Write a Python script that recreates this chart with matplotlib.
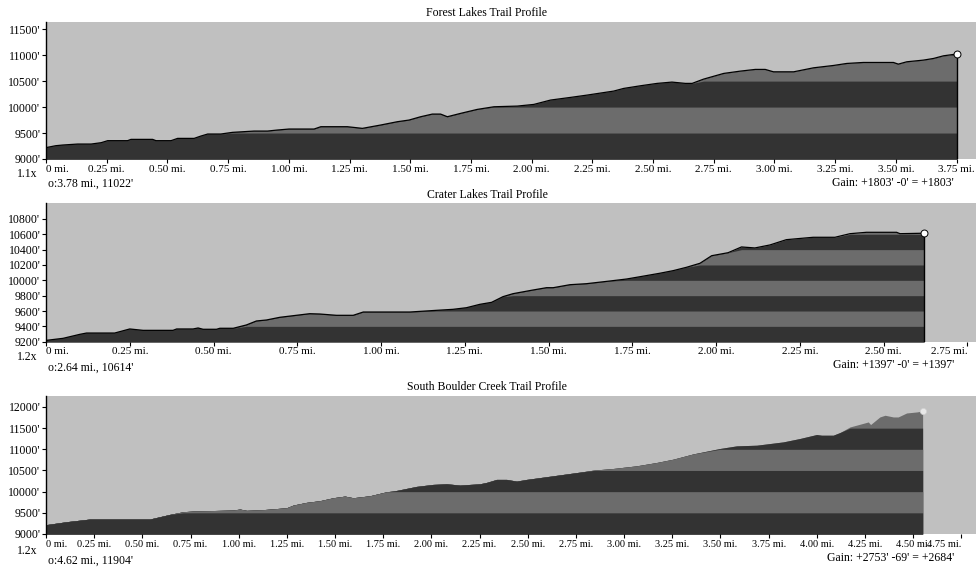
import matplotlib
matplotlib.use('Agg')
import matplotlib.pyplot as plt
import numpy as np

plt.rcParams['font.family'] = ['Liberation Serif', 'DejaVu Serif']
plt.rcParams['font.size'] = 8.5

W, H = 976, 567

# Forest Lakes profile (miles, feet)
forest_dist = [0.0, 0.04, 0.069, 0.131, 0.186, 0.227, 0.254, 0.336, 0.35, 0.439, 0.453, 0.515,
               0.542, 0.61, 0.638, 0.666, 0.72, 0.768, 0.857, 0.912, 0.953, 1.001, 1.104, 1.132,
               1.241, 1.303, 1.378, 1.447, 1.495, 1.543, 1.591, 1.625, 1.653, 1.707, 1.776, 1.845,
               1.941, 2.009, 2.078, 2.16, 2.229, 2.338, 2.379, 2.448, 2.517, 2.578, 2.633, 2.661,
               2.708, 2.791, 2.859, 2.921, 2.962, 2.996, 3.079, 3.161, 3.243, 3.298, 3.366, 3.49,
               3.51, 3.545, 3.613, 3.655, 3.696, 3.751]
forest_elev = [9219, 9256, 9269, 9288, 9288, 9314, 9353, 9353, 9378, 9378, 9353, 9353,
               9397, 9397, 9442, 9481, 9481, 9513, 9538, 9538, 9558, 9577, 9577, 9622,
               9622, 9590, 9654, 9718, 9750, 9814, 9865, 9865, 9814, 9878, 9955, 10006,
               10019, 10051, 10135, 10186, 10231, 10308, 10359, 10410, 10456, 10481, 10456, 10456,
               10538, 10648, 10692, 10725, 10725, 10679, 10679, 10756, 10801, 10840, 10859, 10859,
               10827, 10872, 10904, 10936, 10987, 11022]

# Crater Lakes profile
crater_dist = [0.0, 0.051, 0.101, 0.121, 0.205, 0.25, 0.29, 0.379, 0.39, 0.439, 0.454, 0.469,
               0.509, 0.519, 0.559, 0.598, 0.628, 0.658, 0.698, 0.738, 0.787, 0.817, 0.867,
               0.917, 0.947, 1.086, 1.166, 1.215, 1.255, 1.295, 1.33, 1.364, 1.394, 1.454,
               1.494, 1.514, 1.564, 1.613, 1.683, 1.733, 1.773, 1.832, 1.872, 1.912, 1.952,
               1.987, 2.036, 2.076, 2.116, 2.161, 2.21, 2.29, 2.355, 2.4, 2.449, 2.539, 2.549,
               2.621]
crater_elev = [9217, 9244, 9296, 9313, 9313, 9366, 9348, 9348, 9366, 9366, 9379, 9362,
               9362, 9375, 9375, 9418, 9470, 9483, 9518, 9539, 9565, 9561, 9544,
               9544, 9587, 9587, 9609, 9622, 9643, 9687, 9713, 9787, 9826, 9874,
               9904, 9904, 9943, 9956, 9991, 10017, 10047, 10092, 10126, 10170, 10222,
               10321, 10360, 10435, 10422, 10461, 10530, 10561, 10561, 10608, 10626, 10626, 10608,
               10614]

# South Boulder Creek profile
boulder_dist = [0.0, 0.107, 0.228, 0.539, 0.591, 0.643, 0.712, 0.764, 0.971, 1.006, 1.041,
                1.127, 1.249, 1.283, 1.352, 1.421, 1.49, 1.551, 1.594, 1.681, 1.767, 1.811,
                1.923, 2.009, 2.079, 2.148, 2.252, 2.286, 2.338, 2.39, 2.442, 2.494, 2.632,
                2.771, 2.84, 2.943, 3.065, 3.169, 3.255, 3.359, 3.497, 3.584, 3.688, 3.826,
                3.912, 3.999, 4.025, 4.085, 4.12, 4.172, 4.224, 4.267, 4.279, 4.327, 4.354,
                4.397, 4.422, 4.466, 4.518, 4.549]
boulder_elev = [9220, 9290, 9353, 9353, 9408, 9463, 9526, 9542, 9566, 9589, 9558,
                9575, 9620, 9683, 9747, 9786, 9856, 9895, 9856, 9903, 9997, 10021,
                10124, 10171, 10186, 10155, 10186, 10218, 10289, 10289, 10249, 10289, 10374,
                10461, 10508, 10547, 10610, 10689, 10767, 10892, 11019, 11081, 11097, 11175,
                11255, 11349, 11333, 11333, 11396, 11528, 11592, 11646, 11585, 11764, 11804,
                11764, 11764, 11858, 11882, 11904]

titles = ['Forest Lakes Trail Profile', 'Crater Lakes Trail Profile',
          'South Boulder Creek Trail Profile']
scale_labels = ['1.1x', '1.2x', '1.2x']
end_labels = ["o:3.78 mi., 11022'", "o:2.64 mi., 10614'", "o:4.62 mi., 11904'"]
gain_labels = ["Gain: +1803' -0' = +1803'", "Gain: +1397' -0' = +1397'",
               "Gain: +2753' -69' = +2684'"]
forest_yticks = [9000, 9500, 10000, 10500, 11000, 11500]
crater_yticks = [9200, 9400, 9600, 9800, 10000, 10200, 10400, 10600, 10800]
boulder_yticks = [9000, 9500, 10000, 10500, 11000, 11500, 12000]
forest_xticks = np.arange(0, 3.76, 0.25)
crater_xticks = np.arange(0, 2.76, 0.25)
boulder_xticks = np.arange(0, 4.76, 0.25)

BG, DARK, MID = '#c0c0c0', '#333333', '#6c6c6c'

panels = [
    dict(d=forest_dist, e=forest_elev, yt=forest_yticks, xt=forest_xticks, step=500,
         ylim=(9000, 11644), xlim=(0, 3.83), top=21.7, bot=159, outline=True, xfs=8,
         title_y=12.7, scale_y=174, note_y=183.5, gain_y=182.7),
    dict(d=crater_dist, e=crater_elev, yt=crater_yticks, xt=crater_xticks, step=200,
         ylim=(9200, 11004), xlim=(0, 2.776), top=203.3, bot=341.7, outline=True, xfs=8,
         title_y=195, scale_y=357, note_y=368, gain_y=365),
    dict(d=boulder_dist, e=boulder_elev, yt=boulder_yticks, xt=boulder_xticks, step=500,
         ylim=(9000, 12266), xlim=(0, 4.826), top=395.7, bot=534, outline=False, xfs=7.5,
         title_y=386.7, scale_y=551, note_y=561, gain_y=557.7),
]

fig = plt.figure(figsize=(W / 100, H / 100), dpi=100)

for i, p in enumerate(panels):
    ax = fig.add_axes([46 / W, 1 - p['bot'] / H, 930 / W, (p['bot'] - p['top']) / H])
    ax.set_facecolor(BG)
    ax.grid(False)
    d = np.array(p['d'])
    e = np.array(p['e'])
    y0, y1 = p['ylim']

    # alternating elevation bands, painted from the top band down so no seams show
    tops = np.arange(y0 + p['step'], e.max() + p['step'], p['step'])
    for k in range(len(tops) - 1, -1, -1):
        col = DARK if k % 2 == 0 else MID
        ax.fill_between(d, y0, np.minimum(e, tops[k]), color=col, lw=0)

    if p['outline']:
        ax.plot(d, e, color='black', lw=0.9)
        ax.plot([d[-1], d[-1]], [y0, e[-1]], color='black', lw=1)
        ax.plot(d[-1], e[-1], 'o', ms=5, mfc='white', mec='black', mew=0.7, clip_on=False)
    else:
        ax.plot(d[-1], e[-1], 'o', ms=4.5, mfc='#e8e8e8', mec='#d0d0d0', mew=0.5, clip_on=False)

    ax.set_xlim(p['xlim'])
    ax.set_ylim(p['ylim'])
    ax.set_yticks(p['yt'])
    ax.set_yticklabels([f"{v}'" for v in p['yt']], fontsize=8.5)
    ax.set_xticks(p['xt'])
    ax.set_xticklabels(['0 mi.' if v == 0 else f'{v:.2f} mi.' for v in p['xt']],
                       fontsize=p['xfs'])
    xl = ax.get_xticklabels()
    xl[0].set_ha('left')
    if i > 0:
        xl[-1].set_ha('right')
    ax.tick_params(direction='out', length=3, width=0.8, pad=1)
    for s in ['top', 'right', 'bottom']:
        ax.spines[s].set_visible(False)
    ax.spines['left'].set_linewidth(1)

    fig.text(487 / W, 1 - p['title_y'] / H, titles[i], ha='center', va='center', fontsize=8.5)
    fig.text(27 / W, 1 - p['scale_y'] / H, scale_labels[i], ha='center', va='center', fontsize=8.5)
    fig.text(48 / W, 1 - p['note_y'] / H, end_labels[i], ha='left', va='center', fontsize=8.5)
    fig.text(954 / W, 1 - p['gain_y'] / H, gain_labels[i], ha='right', va='center', fontsize=8.5)

fig.savefig('out.png', dpi=100, facecolor='white')
